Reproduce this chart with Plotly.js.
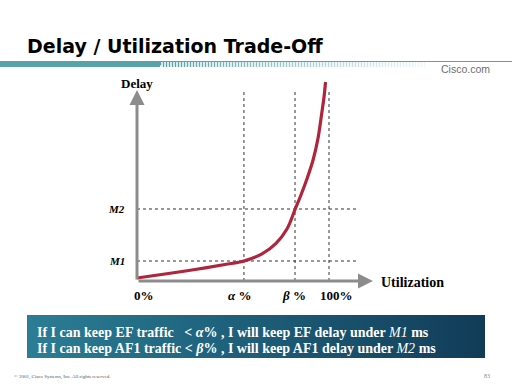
<!DOCTYPE html>
<html><head><meta charset="utf-8">
<script src="https://cdn.plot.ly/plotly-3.0.1.min.js"></script>
<style>html,body{margin:0;padding:0;background:#fff}#chart{width:512px;height:384px}</style>
</head><body><div id="chart"></div>
<script>
// ---- data ----
const utilization = [0, 14.6, 30.2, 45.8, 55.7, 65.1, 72.4, 78.1, 82.3, 85.4, 88.5, 91.7, 94.3, 96.1, 97.4, 98.2];
const delay       = [0.15, 0.35, 0.575, 0.825, 1.0, 1.36, 1.885, 2.6, 3.575, 4.3, 5.1, 6.05, 7.15, 8.3, 9.2, 9.95];
const utilMarks   = [0, 55.7, 82.3, 100];
const utilLabels  = ['0%', '<i>α</i> %', '<i>β</i> %', '100%'];
const delayMarks  = [1.0, 3.6];
const delayLabels = ['<i>M1</i>', '<i>M2</i>'];
const titleText   = 'Delay / Utilization Trade-Off';
const xAxisLabel  = 'Utilization';
const yAxisLabel  = 'Delay';
const boxLines = [
  'If I can keep EF traffic \u00a0\u00a0< <i>α</i>% , I will keep EF delay under <span style="font-weight:normal"><i>M1</i></span> ms',
  'If I can keep AF1 traffic < <i>β</i>% , I will keep AF1 delay under <span style="font-weight:normal"><i>M2</i></span> ms'
];
const footerText = '© 2001, Cisco Systems, Inc. All rights reserved.';
const pageNumber = '83';
const brandText  = 'Cisco.com';

// ---- styles / geometry ----
const serif = 'Liberation Serif, Times New Roman, serif';
const sans  = 'Liberation Sans, Arial, sans-serif';
const teal  = '#58a2aa';
const axisGray = '#8c8c8c';
const pxPerU = 1.92, pxPerD = 20, x0px = 137, y0px = 281;
const xRange = [-10, 165], yRange = [-1.5, 10.5];
const xAxisEnd = 122.9, yAxisEnd = 9.55;
const labelShift = [7, -4, -1, 7];

const traces = [
  { // curve
    x: utilization, y: delay, xaxis: 'x', yaxis: 'y', mode: 'lines',
    line: {color: '#b0243c', width: 3.2, shape: 'spline', smoothing: 1},
    hoverinfo: 'skip', showlegend: false
  },
  { // bottom box
    x: [27, 485, 485, 27, 27], y: [315, 315, 358, 358, 315], xaxis: 'x2', yaxis: 'y2',
    mode: 'none', fill: 'toself',
    fillgradient: {type: 'horizontal', colorscale: [[0, '#2b7d95'], [0.5, '#1d5d78'], [1, '#113c58']]},
    hoverinfo: 'skip', showlegend: false
  },
  { // striped header band
    x: [156, 425, 425, 162, 156], y: [61, 61, 67, 67, 61], xaxis: 'x2', yaxis: 'y2',
    mode: 'none', fill: 'toself',
    fillpattern: {shape: '|', size: 3, solidity: 0.5, fgcolor: teal, bgcolor: '#ffffff'},
    hoverinfo: 'skip', showlegend: false
  },
  { // fade of stripes
    x: [170, 426, 426, 170, 170], y: [61, 61, 67.5, 67.5, 61], xaxis: 'x2', yaxis: 'y2',
    mode: 'none', fill: 'toself',
    fillgradient: {type: 'horizontal', colorscale: [[0, 'rgba(255,255,255,0)'], [1, 'rgba(255,255,255,0.92)']]},
    hoverinfo: 'skip', showlegend: false
  }
];

const shapes = [
  {type: 'rect', xref: 'x2', yref: 'y2', x0: 0, x1: 160, y0: 61, y1: 67, fillcolor: teal, line: {width: 0}},
  {type: 'line', xref: 'x2', yref: 'y2', x0: 150, x1: 512, y0: 61.5, y1: 61.5, line: {color: teal, width: 1.2}}
];
utilMarks.slice(1).forEach(u => shapes.push({
  type: 'line', xref: 'x', yref: 'y', x0: u, x1: u, y0: 0, y1: 9.45, layer: 'below',
  line: {color: '#333', width: 1, dash: 'dot'}
}));
delayMarks.forEach(d => shapes.push({
  type: 'line', xref: 'x', yref: 'y', x0: 0, x1: 115, y0: d, y1: d, layer: 'below',
  line: {color: '#333', width: 1, dash: 'dot'}
}));

const annotations = [
  {x: xAxisEnd, y: 0, ax: 0, ay: 0, xref: 'x', yref: 'y', axref: 'x', ayref: 'y', text: '',
   showarrow: true, arrowhead: 2, arrowsize: 1, arrowwidth: 3, arrowcolor: axisGray, standoff: 0},
  {x: 0, y: yAxisEnd, ax: 0, ay: 0, xref: 'x', yref: 'y', axref: 'x', ayref: 'y', text: '',
   showarrow: true, arrowhead: 2, arrowsize: 1, arrowwidth: 3, arrowcolor: axisGray, standoff: 0},
  {x: 0, y: 9.9, xref: 'x', yref: 'y', text: yAxisLabel, showarrow: false, xanchor: 'center', yanchor: 'middle',
   font: {family: serif, size: 13, color: '#000', weight: 'bold'}},
  {x: 126, y: -0.05, xref: 'x', yref: 'y', text: xAxisLabel, showarrow: false, xanchor: 'left', yanchor: 'middle',
   font: {family: serif, size: 14, color: '#000', weight: 'bold'}},
  {x: 492/512, y: 1 - 69/384, xref: 'paper', yref: 'paper', text: brandText, showarrow: false,
   xanchor: 'right', yanchor: 'middle', font: {family: sans, size: 10.5, color: '#6e6e6e'}},
  {x: 12/512, y: 1 - 377/384, xref: 'paper', yref: 'paper', text: footerText, showarrow: false,
   xanchor: 'left', yanchor: 'middle', font: {family: serif, size: 5, color: '#555'}},
  {x: 492/512, y: 1 - 376/384, xref: 'paper', yref: 'paper', text: pageNumber, showarrow: false,
   xanchor: 'right', yanchor: 'middle', font: {family: serif, size: 6, color: '#888'}}
];
utilMarks.forEach((u, i) => annotations.push({
  x: u, y: -0.7, xref: 'x', yref: 'y', text: utilLabels[i], showarrow: false, xshift: labelShift[i],
  xanchor: 'center', yanchor: 'middle', font: {family: serif, size: 13, color: '#000', weight: 'bold'}
}));
delayMarks.forEach((d, i) => annotations.push({
  x: 0, y: d, xref: 'x', yref: 'y', text: delayLabels[i], showarrow: false, xshift: -10,
  xanchor: 'right', yanchor: 'middle', font: {family: serif, size: 11, color: '#000', weight: 'bold'}
}));
boxLines.forEach((t, i) => annotations.push({
  x: 35/512, y: 1 - (332 + 16*i)/384, xref: 'paper', yref: 'paper', text: t, showarrow: false,
  xanchor: 'left', yanchor: 'middle', font: {family: serif, size: 14, color: '#ffffff', weight: 'bold'}
}));

const xpx = v => x0px + v * pxPerU;
const ypx = v => y0px - v * pxPerD;
const layout = {
  width: 512, height: 384, margin: {l: 0, r: 0, t: 0, b: 0, pad: 0},
  paper_bgcolor: '#ffffff', plot_bgcolor: 'rgba(0,0,0,0)', showlegend: false, hovermode: false,
  title: {text: titleText, x: 27/512, xanchor: 'left', xref: 'paper', y: 1 - 46/384, yanchor: 'middle',
          font: {family: 'DejaVu Sans, Arial, sans-serif', size: 19, color: '#000', weight: 'bold'}},
  xaxis: {domain: [xpx(xRange[0])/512, xpx(xRange[1])/512], range: xRange, visible: false, fixedrange: true},
  yaxis: {domain: [(384 - ypx(yRange[0]))/384, (384 - ypx(yRange[1]))/384], range: yRange, visible: false, fixedrange: true},
  xaxis2: {domain: [0, 1], range: [0, 512], visible: false, anchor: 'y2', fixedrange: true},
  yaxis2: {domain: [0, 1], range: [384, 0], visible: false, anchor: 'x2', fixedrange: true},
  shapes: shapes, annotations: annotations
};

Plotly.newPlot('chart', traces, layout, {staticPlot: true, displayModeBar: false});
</script></body></html>
